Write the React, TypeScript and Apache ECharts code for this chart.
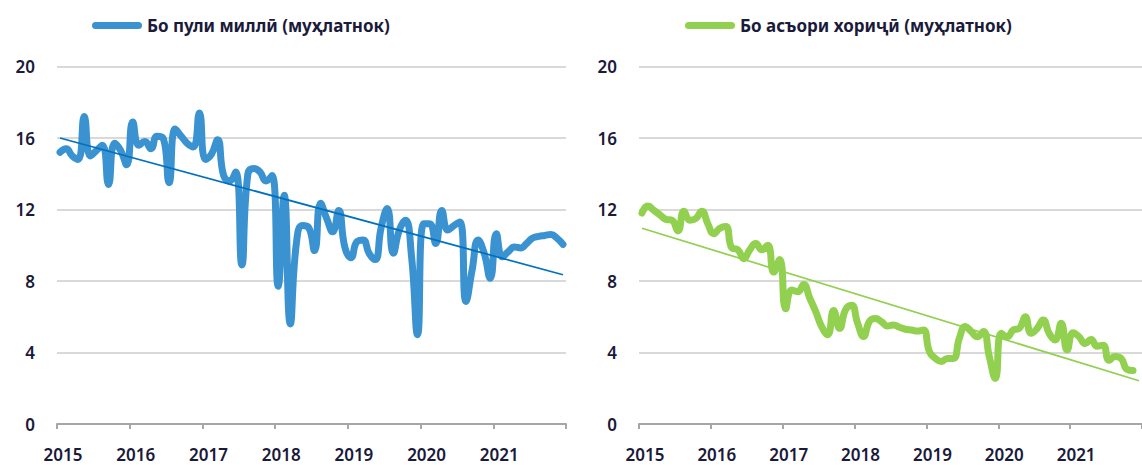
import React, { useEffect, useRef } from "react";
import * as echarts from "echarts";

// ---- data ----
const years = ["2015", "2016", "2017", "2018", "2019", "2020", "2021"];
const monthCodes = ["01", "02", "03", "04", "05", "06", "07", "08", "09", "10", "11", "12"];
const categories: string[] = years.flatMap((y) => monthCodes.map((m) => `${y}-${m}`));

const nationalName = "Бо пули миллӣ (муҳлатнок)";
const foreignName = "Бо асъори хориҷӣ (муҳлатнок)";

// monthly values, Jan 2015 – Dec 2021
const nationalValues = [
  15.2, 15.4, 15.0, 14.8, 17.2, 15.0, 15.3, 15.6, 13.4, 15.7, 15.3, 14.5,
  16.9, 15.6, 15.8, 15.4, 16.1, 16.0, 13.5, 16.5, 16.1, 15.7, 15.5, 17.4,
  14.8, 15.1, 15.9, 13.9, 13.6, 14.1, 8.9, 14.0, 14.3, 14.1, 13.6, 13.9,
  7.7, 12.8, 5.6, 10.1, 11.1, 11.0, 9.7, 12.35, 11.5, 10.75, 11.95, 9.9,
  9.3, 10.2, 10.3, 9.55, 9.2, 11.0, 12.05, 9.55, 10.85, 11.4, 9.4, 5.0,
  11.2, 11.2, 10.1, 11.95, 10.85, 11.1, 11.3, 6.85, 8.6, 10.3, 9.55, 8.15,
  10.65, 9.35, 9.65, 9.9, 9.85, 10.1, 10.4, 10.5, 10.55, 10.6, 10.4, 10.05,
];

const foreignValues = [
  11.8, 12.2, 11.95, 11.7, 11.45, 11.4, 10.8, 11.9, 11.4, 11.5, 11.9, 11.2,
  10.65, 10.95, 11.05, 9.85, 9.75, 9.25, 9.75, 10.1, 9.75, 10.0, 8.5, 9.2,
  6.45, 7.5, 7.4, 7.8, 7.05, 6.3, 5.45, 5.0, 6.35, 5.35, 6.4, 6.65,
  5.65, 4.9, 5.75, 5.9, 5.72, 5.48, 5.54, 5.41, 5.3, 5.26, 5.2, 5.26,
  4.05, 3.67, 3.5, 3.67, 3.67, 4.8, 5.45, 5.17, 4.88, 5.17, 3.77, 2.55,
  5.07, 4.88, 5.26, 5.35, 6.0, 5.07, 5.35, 5.82, 5.07, 4.7, 5.63, 4.14,
  5.11, 4.88, 4.5, 4.73, 4.35, 4.41, 3.57, 3.77, 3.67, 3.06, 3.0,
];

// linear trend: value at first and last month
const nationalTrend = [16.0, 8.35];
const foreignTrend = [10.95, 2.42];

const yTicks = { min: 0, max: 20, interval: 4 };

// ---- style ----
const textColor = "#1a1a3a";
const fontFamily = "'Noto Sans', 'Open Sans', sans-serif";
const blue = "#3a93d0";
const blueTrend = "#0070c0";
const green = "#92d050";
const pill = "path://M3.5,0L46.5,0A3.5,3.5,0,0,1,46.5,7L3.5,7A3.5,3.5,0,0,1,3.5,0Z";

function xAxis(gridIndex: number) {
  return {
    type: "category",
    gridIndex,
    data: categories,
    boundaryGap: true,
    axisLine: { show: true, lineStyle: { color: "#a6a6a6", width: 2 } },
    axisTick: { show: true, interval: 11, length: 5, lineStyle: { color: "#a6a6a6", width: 2 } },
    axisLabel: {
      interval: 11,
      formatter: (v: string) => v.slice(0, 4),
      color: textColor,
      fontSize: 17,
      fontWeight: 600,
      fontFamily,
      margin: 22,
      padding: [0, 0, 0, 6],
    },
    splitLine: { show: false },
  };
}

function yAxis(gridIndex: number) {
  return {
    type: "value",
    gridIndex,
    min: yTicks.min,
    max: yTicks.max,
    interval: yTicks.interval,
    axisLine: { show: false },
    axisTick: { show: false },
    axisLabel: {
      color: textColor,
      fontSize: 17,
      fontWeight: 600,
      fontFamily,
      margin: 22,
    },
    splitLine: { show: true, lineStyle: { color: "#d9d9d9", width: 2 } },
  };
}

function legend(name: string, left: number) {
  return {
    data: [name],
    left,
    top: 17,
    padding: 0,
    icon: pill,
    itemWidth: 50,
    itemHeight: 7,
    itemStyle: { borderWidth: 0 },
    selectedMode: false,
    textStyle: { color: textColor, fontSize: 17, fontWeight: "bold", fontFamily },
  };
}

export default function App() {
  const ref = useRef<HTMLDivElement>(null);

  useEffect(() => {
    if (!ref.current) return;
    const chart = echarts.init(ref.current, undefined, { renderer: "svg" });
    const last = categories.length - 1;
    chart.setOption({
      animation: false,
      backgroundColor: "#ffffff",
      legend: [legend(nationalName, 92), legend(foreignName, 685)],
      grid: [
        { left: 57, top: 66.5, width: 509, height: 357.5, containLabel: false },
        { left: 639, top: 66.5, width: 513, height: 357.5, containLabel: false },
      ],
      xAxis: [xAxis(0), xAxis(1)],
      yAxis: [yAxis(0), yAxis(1)],
      series: [
        {
          name: nationalName,
          type: "line",
          xAxisIndex: 0,
          yAxisIndex: 0,
          data: nationalValues,
          smooth: 0.5,
          showSymbol: false,
          symbol: "none",
          itemStyle: { color: blue },
          lineStyle: { color: blue, width: 7, cap: "round", join: "round" },
          z: 2,
        },
        {
          name: "trend-national",
          type: "line",
          xAxisIndex: 0,
          yAxisIndex: 0,
          data: [
            [categories[0], nationalTrend[0]],
            [categories[last], nationalTrend[1]],
          ],
          showSymbol: false,
          symbol: "none",
          itemStyle: { color: blueTrend },
          lineStyle: { color: blueTrend, width: 1.75 },
          z: 3,
        },
        {
          name: foreignName,
          type: "line",
          xAxisIndex: 1,
          yAxisIndex: 1,
          data: foreignValues,
          smooth: 0.5,
          showSymbol: false,
          symbol: "none",
          itemStyle: { color: green },
          lineStyle: { color: green, width: 7, cap: "round", join: "round" },
          z: 2,
        },
        {
          name: "trend-foreign",
          type: "line",
          xAxisIndex: 1,
          yAxisIndex: 1,
          data: [
            [categories[0], foreignTrend[0]],
            [categories[last], foreignTrend[1]],
          ],
          showSymbol: false,
          symbol: "none",
          itemStyle: { color: green },
          lineStyle: { color: green, width: 1.75 },
          z: 3,
        },
      ],
    });
    return () => chart.dispose();
  }, []);

  return (
    <div
      ref={ref}
      style={{ position: "fixed", left: 0, top: 0, width: 1142, height: 465, background: "#fff" }}
    />
  );
}
